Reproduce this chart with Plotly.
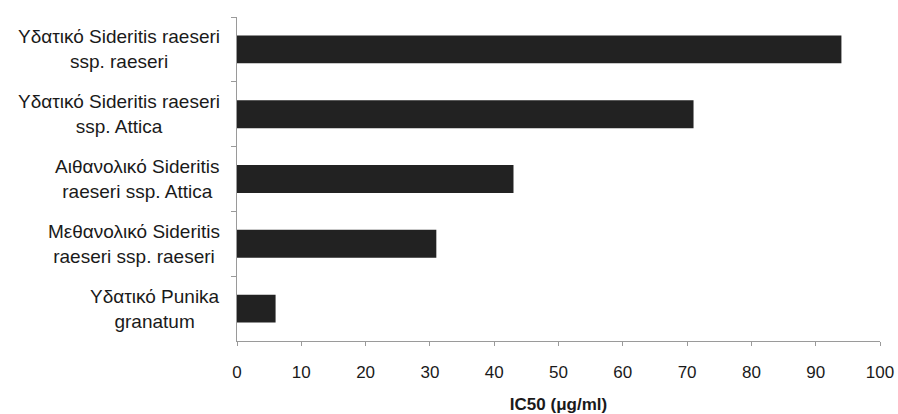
import plotly.graph_objects as go

label_line1 = ["Υδατικό Sideritis raeseri", "Υδατικό Sideritis raeseri", "Αιθανολικό Sideritis",
               "Μεθανολικό Sideritis", "Υδατικό Punika"]
label_line2 = ["ssp. raeseri", "ssp. Attica", "raeseri ssp. Attica", "raeseri ssp. raeseri", "granatum"]
categories = [a + " " + b for a, b in zip(label_line1, label_line2)]
ic50 = [94, 71, 43, 31, 6]
x_ticks = [0, 10, 20, 30, 40, 50, 60, 70, 80, 90, 100]
x_title = "IC50 (μg/ml)"

FONT = "Liberation Sans, Arial, sans-serif"
AXIS_COL = "#9a9a9a"
TEXT_COL = "#1a1a1a"

fig = go.Figure(go.Bar(
    x=ic50, y=categories, orientation="h",
    marker=dict(color="#222222", line=dict(width=0)),
    width=0.43,
))

annotations = []
for cat, l1, l2 in zip(categories, label_line1, label_line2):
    annotations.append(dict(
        x=0, xref="paper", y=cat, yref="y", xanchor="right", yanchor="middle",
        xshift=-15, yshift=0, align="center", showarrow=False,
        text=f"{l1}<br>{l2}",
        font=dict(family=FONT, size=19, color=TEXT_COL)))

fig.update_layout(
    width=898, height=414,
    margin=dict(l=237, r=18, t=17, b=73),
    paper_bgcolor="white", plot_bgcolor="white",
    showlegend=False,
    bargap=0.57,
    annotations=annotations,
    font=dict(family=FONT, color=TEXT_COL),
)
fig.update_xaxes(
    range=[0, 100], tickvals=x_ticks, ticktext=[str(v) for v in x_ticks],
    showgrid=False, zeroline=False, automargin=False,
    showline=True, linecolor=AXIS_COL, linewidth=1,
    ticks="outside", ticklen=4, tickcolor=AXIS_COL,
    ticklabelstandoff=12,
    tickfont=dict(family=FONT, size=17, color=TEXT_COL),
    title=dict(text=f"<b>{x_title}</b>", font=dict(family=FONT, size=17, color=TEXT_COL), standoff=17),
)
fig.update_yaxes(
    categoryorder="array", categoryarray=categories, autorange="reversed",
    showticklabels=False, showgrid=False, zeroline=False, automargin=False,
    showline=True, linecolor=AXIS_COL, linewidth=1,
    ticks="outside", ticklen=5, tickcolor=AXIS_COL, tickson="boundaries",
)

fig.write_html("out.html", config={"displayModeBar": False},
               post_script="document.body.style.margin='0';document.body.style.overflow='hidden';")
